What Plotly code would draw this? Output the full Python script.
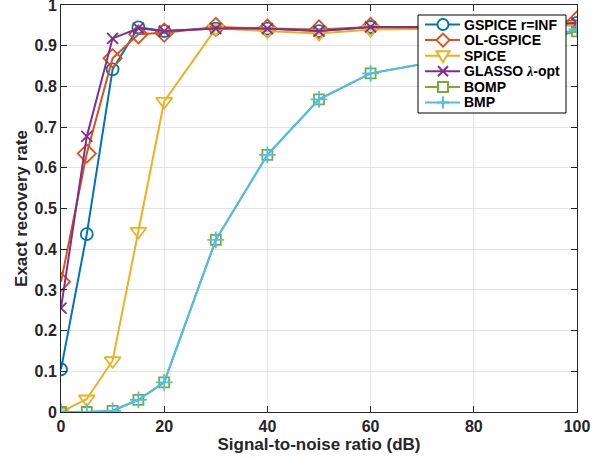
import plotly.graph_objects as go

snr = [0, 5, 10, 15, 20, 30, 40, 50, 60, 80, 100]
gspice = [0.105, 0.437, 0.842, 0.945, 0.936, 0.942, 0.942, 0.936, 0.946, 0.942, 0.956]
olgspice = [0.32, 0.635, 0.869, 0.928, 0.932, 0.946, 0.942, 0.94, 0.946, 0.946, 0.962]
spice = [0.0, 0.032, 0.126, 0.444, 0.763, 0.942, 0.936, 0.93, 0.94, 0.942, 0.95]
glasso = [0.255, 0.677, 0.918, 0.943, 0.936, 0.942, 0.942, 0.936, 0.946, 0.945, 0.956]
bomp = [0.0, 0.0, 0.003, 0.03, 0.073, 0.423, 0.632, 0.768, 0.832, 0.878, 0.935]
bmp = [0.0, 0.0, 0.003, 0.03, 0.073, 0.423, 0.632, 0.768, 0.832, 0.878, 0.94]

names = ["GSPICE r=INF", "OL-GSPICE", "SPICE",
         "GLASSO <span style=\"font-family:'Liberation Serif'\"><i>λ</i></span>-opt",
         "BOMP", "BMP"]
series = [gspice, olgspice, spice, glasso, bomp, bmp]
colors = ["#0072BD", "#D95319", "#EDB120", "#7E2F8E", "#77AC30", "#4DBEEE"]
symbols = ["circle-open", "diamond-open", "triangle-down-open", "x-thin-open", "square-open", "cross-thin-open"]
kinds = ["circle", "diamond", "tri", "x", "square", "cross"]
sizes = [12, 14, 14, 11, 10, 12]

W, H = 606, 459
ML, MR, MT, MB = 61, 29, 5, 47

fig = go.Figure()
for n, s, c, sym, sz in zip(names, series, colors, symbols, sizes):
    fig.add_trace(go.Scatter(
        x=snr, y=s, name=n, mode="lines+markers", showlegend=False,
        line=dict(color=c, width=2),
        marker=dict(symbol=sym, size=sz, color=c, line=dict(color=c, width=1.8)),
    ))

# ---- custom legend (layout in pixels, converted to paper coordinates) ----
pw, ph = W - ML - MR, H - MT - MB
def px(x):
    return (x - ML) / pw
def py(y):
    return (H - MB - y) / ph

box = dict(x0=418, x1=566, y0=15, y1=113)
row0, rowgap = 24.5, 15.6
seg_x0, seg_x1, mk_x, txt_x = 425, 460, 443, 463

shapes = [dict(type="rect", xref="paper", yref="paper", layer="above",
               x0=px(box["x0"]), x1=px(box["x1"]), y0=py(box["y1"]), y1=py(box["y0"]),
               fillcolor="white", line=dict(color="black", width=1))]
annotations = []

def path(points, close=True):
    s = "M " + " L ".join(f"{px(a):.5f},{py(b):.5f}" for a, b in points)
    return s + (" Z" if close else "")

for i, (n, c, k) in enumerate(zip(names, colors, kinds)):
    cy = row0 + i * rowgap
    ln = dict(color=c, width=2)
    shapes.append(dict(type="line", xref="paper", yref="paper", layer="above",
                       x0=px(seg_x0), x1=px(seg_x1), y0=py(cy), y1=py(cy), line=ln))
    r = 5.5
    if k == "circle":
        shapes.append(dict(type="circle", xref="paper", yref="paper", layer="above",
                           x0=px(mk_x - r), x1=px(mk_x + r), y0=py(cy + r), y1=py(cy - r),
                           fillcolor="white", line=ln))
    elif k == "diamond":
        r = 6.5
        shapes.append(dict(type="path", xref="paper", yref="paper", layer="above",
                           path=path([(mk_x, cy - r), (mk_x + r, cy), (mk_x, cy + r), (mk_x - r, cy)]),
                           fillcolor="white", line=ln))
    elif k == "tri":
        r = 6.5
        shapes.append(dict(type="path", xref="paper", yref="paper", layer="above",
                           path=path([(mk_x - r, cy - 0.7 * r), (mk_x + r, cy - 0.7 * r), (mk_x, cy + r)]),
                           fillcolor="white", line=ln))
    elif k == "x":
        r = 5
        shapes.append(dict(type="path", xref="paper", yref="paper", layer="above",
                           path=path([(mk_x - r, cy - r), (mk_x + r, cy + r)], False) + " " +
                                path([(mk_x - r, cy + r), (mk_x + r, cy - r)], False),
                           line=ln))
    elif k == "square":
        r = 5
        shapes.append(dict(type="rect", xref="paper", yref="paper", layer="above",
                           x0=px(mk_x - r), x1=px(mk_x + r), y0=py(cy + r), y1=py(cy - r),
                           fillcolor="white", line=ln))
    elif k == "cross":
        r = 6
        shapes.append(dict(type="path", xref="paper", yref="paper", layer="above",
                           path=path([(mk_x - r, cy), (mk_x + r, cy)], False) + " " +
                                path([(mk_x, cy - r), (mk_x, cy + r)], False),
                           line=ln))
    annotations.append(dict(xref="paper", yref="paper", x=px(txt_x), y=py(cy),
                            xanchor="left", yanchor="middle", showarrow=False, text=n,
                            borderpad=0,
                            font=dict(family="Liberation Sans, Arial, sans-serif", size=14,
                                      color="black", weight="bold")))

font_family = "Liberation Sans, Arial, sans-serif"
fig.update_layout(
    width=W, height=H,
    margin=dict(l=ML, r=MR, t=MT, b=MB, autoexpand=False),
    paper_bgcolor="white", plot_bgcolor="white",
    font=dict(family=font_family, size=16, color="#262626"),
    showlegend=False,
    shapes=shapes, annotations=annotations,
)
axis_common = dict(
    showgrid=True, gridcolor="#e3e3e3", gridwidth=1,
    showline=True, linecolor="#262626", linewidth=1, mirror="ticks",
    ticks="inside", ticklen=6, tickcolor="#262626",
    tickfont=dict(size=16, weight="bold", color="#262626"), zeroline=False,
    ticklabeloverflow="allow",
)
fig.update_xaxes(
    range=[0, 100], tickvals=[0, 20, 40, 60, 80, 100], **axis_common,
    title=dict(text="Signal-to-noise ratio (dB)", font=dict(size=17, weight="bold"), standoff=2),
)
fig.update_yaxes(
    range=[0, 1], tickvals=[0, 0.1, 0.2, 0.3, 0.4, 0.5, 0.6, 0.7, 0.8, 0.9, 1],
    ticktext=["0", "0.1", "0.2", "0.3", "0.4", "0.5", "0.6", "0.7", "0.8", "0.9", "1"],
    **axis_common,
    title=dict(text="Exact recovery rate", font=dict(size=17, weight="bold"), standoff=2),
)
fig.write_html("out.html", config={"displayModeBar": False},
               post_script="document.body.style.margin='0';")
